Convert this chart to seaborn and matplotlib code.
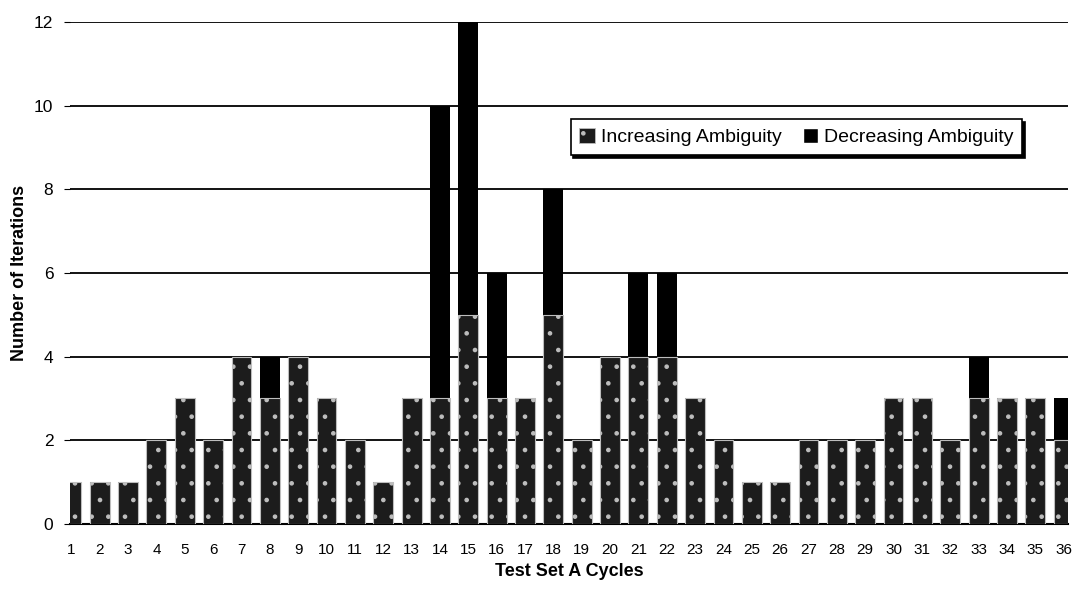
import numpy as np
import pandas as pd
import matplotlib.pyplot as plt
import seaborn as sns
from matplotlib.patches import Patch

# values
cycles = [str(i) for i in range(1, 37)]
increasing = [1, 1, 1, 2, 3, 2, 4, 3, 4, 3, 2, 1, 3, 3, 5, 3, 3, 5,
              2, 4, 4, 4, 3, 2, 1, 1, 2, 2, 2, 3, 3, 2, 3, 3, 3, 2]
decreasing = [0, 0, 0, 0, 0, 0, 0, 1, 0, 0, 0, 0, 0, 7, 7, 3, 0, 3,
              0, 0, 2, 2, 0, 0, 0, 0, 0, 0, 0, 0, 0, 0, 1, 0, 0, 1]
totals = [a + b for a, b in zip(increasing, decreasing)]

sns.set_style('white')
plt.rcParams['font.family'] = ['Liberation Sans', 'DejaVu Sans']
plt.rcParams['hatch.linewidth'] = 0.9
for k in ['text.color', 'axes.labelcolor', 'xtick.color', 'ytick.color']:
    plt.rcParams[k] = 'black'

fig = plt.figure(figsize=(10.76, 5.93), dpi=100)
ax = fig.add_axes([0.065, 0.1164, 0.9275, 0.8466])

df = pd.DataFrame({'cycle': cycles, 'inc': increasing, 'total': totals})

# totals in solid black, the increasing part drawn over it
sns.barplot(data=df, x='cycle', y='total', color='black', saturation=1,
            width=0.7, linewidth=0, ax=ax, zorder=3)
sns.barplot(data=df, x='cycle', y='inc', color='#1c1c1c', saturation=1,
            width=0.7, hatch='.', edgecolor='#bdbdbd', linewidth=0.8,
            ax=ax, zorder=4)

ax.set_xlim(-0.05, 35.15)
ax.set_ylim(0, 12)
ax.set_yticks(np.arange(0, 13, 2))
ax.yaxis.grid(True, color='black', lw=1.3)
ax.set_axisbelow(True)

for s in ['left', 'top', 'right']:
    ax.spines[s].set_visible(False)
ax.spines['bottom'].set_color('black')
ax.spines['bottom'].set_linewidth(1.5)

ax.tick_params(axis='y', left=True, length=4, width=0.8, color='black',
               labelsize=12.5, pad=8)
ax.tick_params(axis='x', length=0, labelsize=11, pad=14)

ax.set_xlabel('Test Set A Cycles', fontsize=13, fontweight='bold', labelpad=4)
ax.set_ylabel('Number of Iterations', fontsize=13, fontweight='bold', labelpad=4)

handles = [Patch(facecolor='#1c1c1c', hatch='.', edgecolor='#bdbdbd', lw=0.6),
           Patch(facecolor='black')]
leg = ax.legend(handles, ['Increasing Ambiguity', 'Decreasing Ambiguity'],
                loc='center', bbox_to_anchor=(0.728, 0.771), ncol=2,
                fontsize=14, frameon=True, fancybox=False,
                shadow={'color': 'black', 'alpha': 1},
                handlelength=0.8, handleheight=0.8, handletextpad=0.3,
                columnspacing=1.1, borderpad=0.45)
leg.get_frame().set_edgecolor('black')
leg.get_frame().set_linewidth(1.2)
leg.get_frame().set_alpha(1)

plt.savefig('out.png', dpi=100)
